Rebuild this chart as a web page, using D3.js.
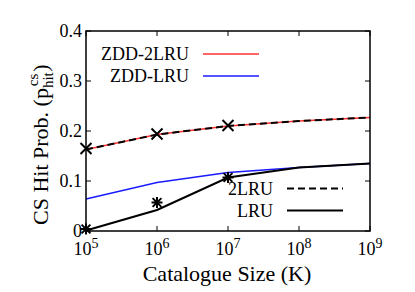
<!DOCTYPE html>
<html>
<head>
<meta charset="utf-8">
<script src="https://cdn.jsdelivr.net/npm/d3@7"></script>
<style>
  body { margin: 0; background: #fff; }
</style>
</head>
<body>
<svg id="svg" width="415" height="292"></svg>
<script>
const w = 415;
const h = 292;
const margin = { left: 86, right: 45, top: 31, bottom: 61 };
const serif = "'Liberation Serif', 'Times New Roman', Times, 'DejaVu Serif', serif";

// catalogue sizes (K)
const sizes = [1e5, 1e6, 1e7, 1e8, 1e9];
const xTickExp = [5, 6, 7, 8, 9];
const yTicks = [0, 0.1, 0.2, 0.3, 0.4];

// analytical curves
const zdd2lru = [0.163, 0.193, 0.210, 0.220, 0.227];
const zddlru = [0.064, 0.097, 0.117, 0.127, 0.135];
const lru2 = [0.163, 0.193, 0.210, 0.220, 0.227];
const lru = [0.001, 0.042, 0.107, 0.127, 0.135];

// simulation points
const simSizes = [1e5, 1e6, 1e7];
const sim2lru = [0.165, 0.194, 0.211];
const simLru = [0.004, 0.057, 0.107];

let svg = d3.select("#svg").attr("font-family", serif);

let xScale = d3.scaleLog([1e5, 1e9], [margin.left, w - margin.right]);
let yScale = d3.scaleLinear([0, 0.4], [h - margin.bottom, margin.top]);

const x0 = margin.left, x1 = w - margin.right;
const y0 = h - margin.bottom, y1 = margin.top;
const tickLen = 5;

// ticks (mirrored, inward)
const tickG = svg.append("g").attr("stroke", "black").attr("stroke-width", 1);
sizes.forEach((s) => {
  const x = xScale(s);
  tickG.append("line").attr("x1", x).attr("x2", x).attr("y1", y0).attr("y2", y0 - tickLen);
  tickG.append("line").attr("x1", x).attr("x2", x).attr("y1", y1).attr("y2", y1 + tickLen);
});
yTicks.forEach((v) => {
  const y = yScale(v);
  tickG.append("line").attr("x1", x0).attr("x2", x0 + tickLen).attr("y1", y).attr("y2", y);
  tickG.append("line").attr("x1", x1).attr("x2", x1 - tickLen).attr("y1", y).attr("y2", y);
});

// tick labels
svg
  .append("g")
  .selectAll("text")
  .data(yTicks)
  .join("text")
  .attr("x", x0 - 4)
  .attr("y", (d) => yScale(d))
  .attr("dy", "0.33em")
  .attr("text-anchor", "end")
  .attr("font-size", 18)
  .text((d) => (d === 0 ? "0" : d.toFixed(1)));

const xl = svg
  .append("g")
  .selectAll("text")
  .data(xTickExp)
  .join("text")
  .attr("x", (d) => xScale(Math.pow(10, d)))
  .attr("y", 255)
  .attr("text-anchor", "middle")
  .attr("font-size", 18);
xl.append("tspan").text("10");
xl.append("tspan").attr("dy", -7).attr("font-size", 14).text((d) => d);

// axis titles
svg
  .append("text")
  .attr("x", (x0 + x1) / 2 - 1)
  .attr("y", 281)
  .attr("text-anchor", "middle")
  .attr("font-size", 22)
  .text("Catalogue Size (K)");

const yt = svg
  .append("text")
  .attr("transform", "translate(48, 225) rotate(-90)")
  .attr("text-anchor", "start")
  .attr("font-size", 22);
yt.append("tspan").text("CS Hit Prob. (p");
yt.append("tspan").attr("font-size", 15).attr("dy", 5).text("hit");
yt.append("tspan").attr("font-size", 15).attr("dx", -14).attr("dy", -15).text("cs");
yt.append("tspan").attr("dx", 2).attr("dy", 10).text(")");

// lines
const lineFunc = d3
  .line()
  .x((d) => xScale(d[0]))
  .y((d) => yScale(d[1]));

const series = [
  { vals: zdd2lru, color: "#ff3030", width: 1.5, dash: null },
  { vals: zddlru, color: "#1a1aff", width: 1.5, dash: null },
  { vals: lru2, color: "black", width: 2, dash: "7,4" },
  { vals: lru, color: "black", width: 2, dash: null },
];

series.forEach((s) => {
  svg
    .append("path")
    .datum(sizes.map((x, i) => [x, s.vals[i]]))
    .attr("fill", "none")
    .attr("stroke", s.color)
    .attr("stroke-width", s.width)
    .attr("stroke-dasharray", s.dash)
    .attr("d", lineFunc);
});

// markers
const r = 5.5;
simSizes.forEach((x, i) => {
  const cx = xScale(x), cy = yScale(sim2lru[i]);
  svg
    .append("path")
    .attr("d", `M${cx - r},${cy - r}L${cx + r},${cy + r}M${cx - r},${cy + r}L${cx + r},${cy - r}`)
    .attr("stroke", "black")
    .attr("stroke-width", 2);
});
simSizes.forEach((x, i) => {
  const cx = xScale(x), cy = yScale(simLru[i]);
  const q = r * 0.8;
  svg
    .append("path")
    .attr(
      "d",
      `M${cx - q},${cy - q}L${cx + q},${cy + q}M${cx - q},${cy + q}L${cx + q},${cy - q}` +
        `M${cx - r},${cy}L${cx + r},${cy}M${cx},${cy - r}L${cx},${cy + r}`
    )
    .attr("stroke", "black")
    .attr("stroke-width", 2);
});

// frame
svg
  .append("rect")
  .attr("x", x0)
  .attr("y", y1)
  .attr("width", x1 - x0)
  .attr("height", y0 - y1)
  .attr("fill", "none")
  .attr("stroke", "black")
  .attr("stroke-width", 1.5);

// legends
const legend = [
  { label: "ZDD-2LRU", color: "#ff3030", dash: null, tx: 189, y: 54, x1: 203, x2: 259, width: 1.5 },
  { label: "ZDD-LRU", color: "#1a1aff", dash: null, tx: 189, y: 76, x1: 203, x2: 259, width: 1.5 },
  { label: "2LRU", color: "black", dash: "7,4", tx: 273, y: 188.5, x1: 287, x2: 343, width: 2 },
  { label: "LRU", color: "black", dash: null, tx: 273, y: 210.5, x1: 287, x2: 343, width: 2 },
];
legend.forEach((d) => {
  svg
    .append("text")
    .attr("x", d.tx)
    .attr("y", d.y)
    .attr("dy", "0.35em")
    .attr("text-anchor", "end")
    .attr("font-size", 18)
    .text(d.label);
  svg
    .append("line")
    .attr("x1", d.x1)
    .attr("x2", d.x2)
    .attr("y1", d.y)
    .attr("y2", d.y)
    .attr("stroke", d.color)
    .attr("stroke-width", d.width)
    .attr("stroke-dasharray", d.dash);
});
</script>
</body>
</html>
